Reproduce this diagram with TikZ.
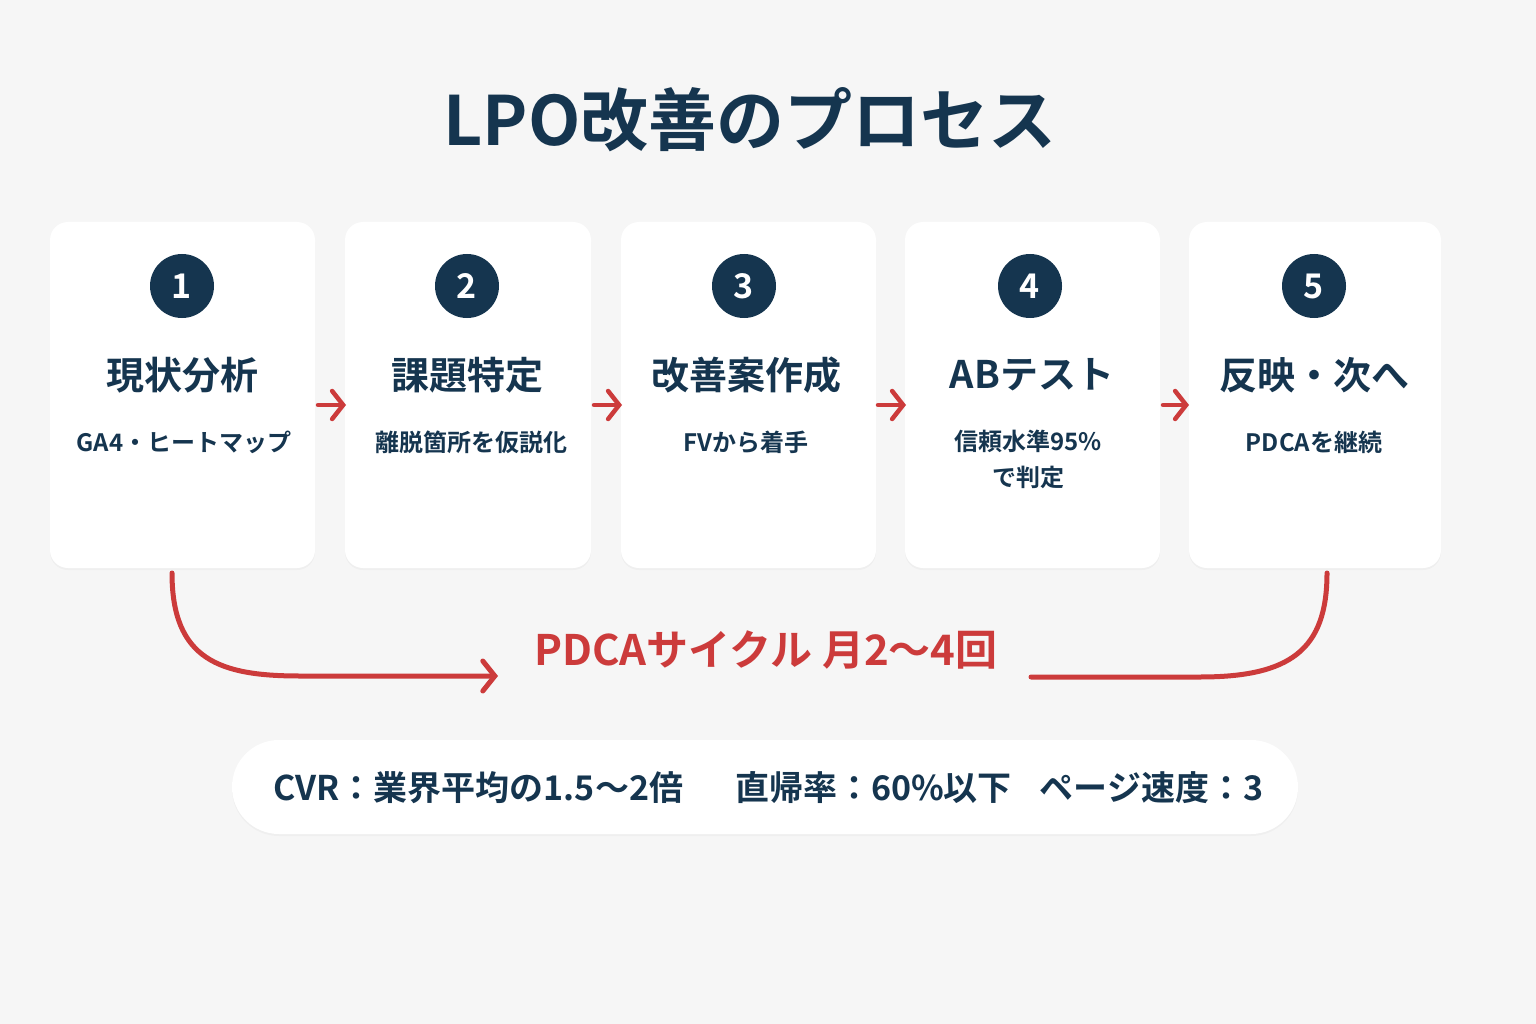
\documentclass[tikz,border=0pt]{standalone}
\usepackage{fontspec}
\setmainfont{Noto Sans CJK JP}[BoldFont={* Bold}]
\usetikzlibrary{arrows.meta,shadows}
\definecolor{navy}{HTML}{15354F}
\definecolor{rd}{HTML}{CC3B3B}
\definecolor{bg}{HTML}{F6F6F6}
\begin{document}
\begin{tikzpicture}[x=1pt,y=-1pt,
 card/.style={fill=white,rounded corners=18pt,draw=none,drop shadow={opacity=0.06,shadow xshift=0pt,shadow yshift=-2pt}},
 num/.style={circle,fill=navy,minimum size=64pt,inner sep=0pt,text=white,font=\fontsize{34}{34}\selectfont\bfseries},
 ttl/.style={text=navy,font=\fontsize{38}{40}\selectfont\bfseries},
 sub/.style={text=navy,font=\fontsize{24}{36}\selectfont\bfseries,align=center},
 steparrow/.style={draw=rd,line width=4.5pt,line cap=round,-{Straight Barb[length=11pt,width=28pt,line cap=round]}},
 loop/.style={draw=rd,line width=5pt,line cap=round}]
\fill[bg] (0,0) rectangle (1536,1024);
\useasboundingbox (0,0) rectangle (1536,1024);
\node[text=navy,font=\fontsize{68}{68}\selectfont\bfseries] (title) at (750,120) {LPO改善のプロセス};
\foreach \i/\a/\b in {1/50/315,2/345/591,3/621/876,4/905/1160,5/1189/1441}{
  \fill[card] (\a,222) rectangle (\b,568);
}
\node[num] (n1) at (182,286) {1};
\node[num] (n2) at (467,286) {2};
\node[num] (n3) at (744,286) {3};
\node[num] (n4) at (1030,286) {4};
\node[num] (n5) at (1314,286) {5};
\node[ttl] (t1) at (182,375) {現状分析};
\node[ttl] (t2) at (467,375) {課題特定};
\node[ttl] (t3) at (746,375) {改善案作成};
\node[ttl] (t4) at (1032,375) {ABテスト};
\node[ttl] (t5) at (1314,375) {反映・次へ};
\node[sub] (s1) at (184,442) {GA4・ヒートマップ};
\node[sub] (s2) at (471,442) {離脱箇所を仮説化};
\node[sub] (s3) at (746,442) {FVから着手};
\node[sub,anchor=north] (s4) at (1028,426) {信頼水準95\%\\で判定};
\node[sub] (s5) at (1314,442) {PDCAを継続};
\coordinate (a1) at (318,405); \coordinate (b1) at (346,405);
\coordinate (a2) at (594,405); \coordinate (b2) at (622,405);
\coordinate (a3) at (878,405); \coordinate (b3) at (906,405);
\coordinate (a4) at (1163,405); \coordinate (b4) at (1189,405);
\foreach \k in {1,...,4}{\draw[steparrow] (a\k) -- (b\k);}
\node[text=rd,font=\fontsize{42}{42}\selectfont\bfseries] (pdca) at (766,650) {PDCAサイクル 月2〜4回};
\coordinate (L0) at (172,573); \coordinate (L1) at (498,676);
\coordinate (R0) at (1327,573); \coordinate (R1) at (1031,677);
\draw[loop,-{Straight Barb[length=12pt,width=30pt,line cap=round]}] (L0) .. controls (172,660) and (220,676) .. (300,676) -- (L1);
\draw[loop] (R0) .. controls (1327,650) and (1290,677) .. (1200,677) -- (R1);
\fill[white,rounded corners=47pt,drop shadow={opacity=0.05,shadow xshift=0pt,shadow yshift=-2pt}] (232,740) rectangle (1298,834);
\node[text=navy,font=\fontsize{34}{34}\selectfont\bfseries,anchor=west] (stats) at (270,788) {CVR：業界平均の1.5〜2倍\hspace{52pt}直帰率：60\%以下\hspace{28pt}ページ速度：3};
\end{tikzpicture}
\end{document}
